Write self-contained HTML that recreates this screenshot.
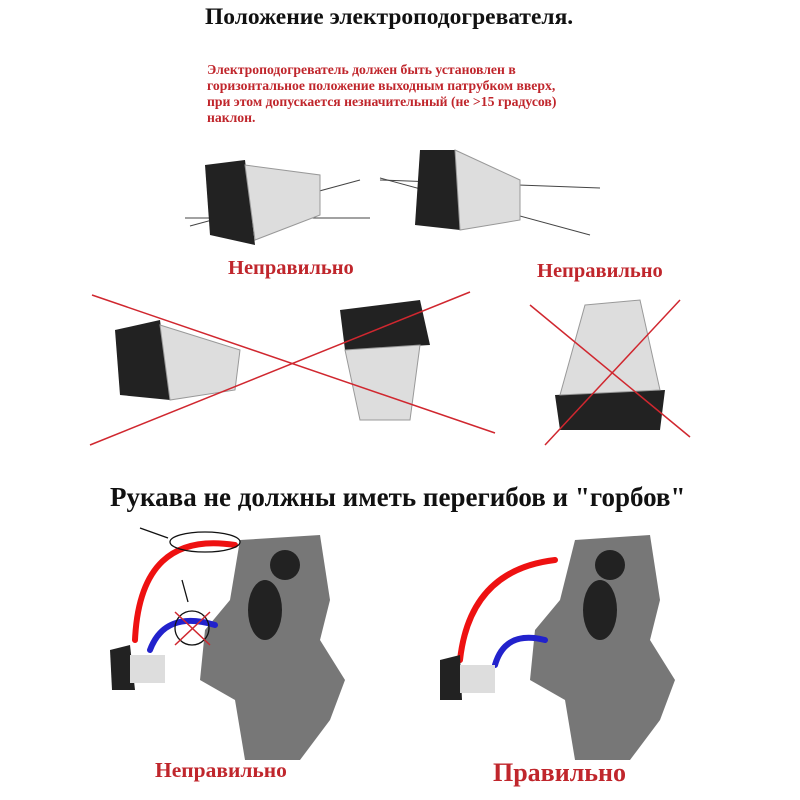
<!DOCTYPE html>
<html><head><meta charset="utf-8"><style>
body{margin:0;width:800px;height:800px;background:#fff;position:relative;overflow:hidden;font-family:"Liberation Serif",serif}
.t{position:absolute;font-weight:bold;white-space:nowrap}
</style></head><body>
<div class="t" style="left:205px;top:4px;font-size:23.5px;color:#111">Положение электроподогревателя.</div>
<div class="t" style="left:207px;top:62px;font-size:13.7px;color:#c0262c;line-height:16px">Электроподогреватель должен быть установлен в<br>горизонтальное положение выходным патрубком вверх,<br>при этом допускается незначительный (не &gt;15 градусов)<br>наклон.</div>
<div class="t" style="left:228px;top:257px;font-size:20.5px;color:#c0262c">Неправильно</div>
<div class="t" style="left:537px;top:260px;font-size:20.5px;color:#c0262c">Неправильно</div>
<div class="t" style="left:110px;top:482px;font-size:27px;color:#111">Рукава не должны иметь перегибов и "горбов"</div>
<div class="t" style="left:155px;top:758px;font-size:21.5px;color:#c0262c">Неправильно</div>
<div class="t" style="left:493px;top:758px;font-size:26px;color:#c0262c">Правильно</div>
<svg width="800" height="800" style="position:absolute;left:0;top:0">
<g stroke="#444" stroke-width="1" fill="none">
<line x1="185" y1="218" x2="370" y2="218"/><line x1="190" y1="226" x2="360" y2="180"/>
<line x1="380" y1="180" x2="600" y2="188"/><line x1="380" y1="178" x2="590" y2="235"/>
</g>
<g><path d="M205 165 L245 160 L255 245 L210 235 Z" fill="#222"/><path d="M245 165 L320 175 L320 215 L255 240 Z" fill="#ddd" stroke="#999"/>
<path d="M420 150 L455 150 L460 230 L415 225 Z" fill="#222"/><path d="M455 150 L520 180 L520 220 L460 230 Z" fill="#ddd" stroke="#999"/></g>
<path d="M115 330 L160 320 L170 400 L120 395 Z" fill="#222"/><path d="M160 325 L240 350 L235 390 L170 400 Z" fill="#ddd" stroke="#999"/>
<path d="M340 310 L420 300 L430 345 L345 350 Z" fill="#222"/><path d="M345 350 L420 345 L410 420 L360 420 Z" fill="#ddd" stroke="#999"/>
<path d="M555 395 L665 390 L660 430 L560 430 Z" fill="#222"/><path d="M585 305 L640 300 L660 390 L560 395 Z" fill="#ddd" stroke="#999"/>
<g stroke="#d0272f" stroke-width="1.5">
<line x1="92" y1="295" x2="495" y2="433"/><line x1="90" y1="445" x2="470" y2="292"/>
<line x1="530" y1="305" x2="690" y2="437"/><line x1="545" y1="445" x2="680" y2="300"/>
</g>
<path d="M240 540 L320 535 L330 600 L320 640 L345 680 L330 720 L300 760 L245 760 L235 700 L200 680 L205 630 L230 600 Z" fill="#777"/>
<path d="M575 540 L650 535 L660 600 L650 640 L675 680 L660 720 L630 760 L575 760 L565 700 L530 680 L535 630 L560 600 Z" fill="#777"/>
<circle cx="285" cy="565" r="15" fill="#222"/><ellipse cx="265" cy="610" rx="17" ry="30" fill="#222"/>
<circle cx="610" cy="565" r="15" fill="#222"/><ellipse cx="600" cy="610" rx="17" ry="30" fill="#222"/>
<g fill="none" stroke-width="6" stroke-linecap="round">
<path d="M135 640 Q140 530 235 545" stroke="#e11"/><path d="M150 650 Q165 610 215 625" stroke="#22c"/>
<path d="M460 660 Q470 570 555 560" stroke="#e11"/><path d="M495 665 Q505 630 545 640" stroke="#22c"/>
</g>
<path d="M110 650 L130 645 L135 690 L112 690 Z" fill="#222"/><rect x="130" y="655" width="35" height="28" fill="#ddd"/>
<path d="M440 660 L460 655 L462 700 L440 700 Z" fill="#222"/><rect x="460" y="665" width="35" height="28" fill="#ddd"/>
<g fill="none" stroke="#111" stroke-width="1.3"><ellipse cx="205" cy="542" rx="35" ry="10"/><circle cx="192" cy="628" r="17"/>
<line x1="140" y1="528" x2="168" y2="538"/><line x1="182" y1="580" x2="188" y2="602"/></g>
<g stroke="#d0272f" stroke-width="1.5"><line x1="175" y1="612" x2="210" y2="645"/><line x1="210" y1="612" x2="175" y2="645"/></g>
</svg>
</body></html>
